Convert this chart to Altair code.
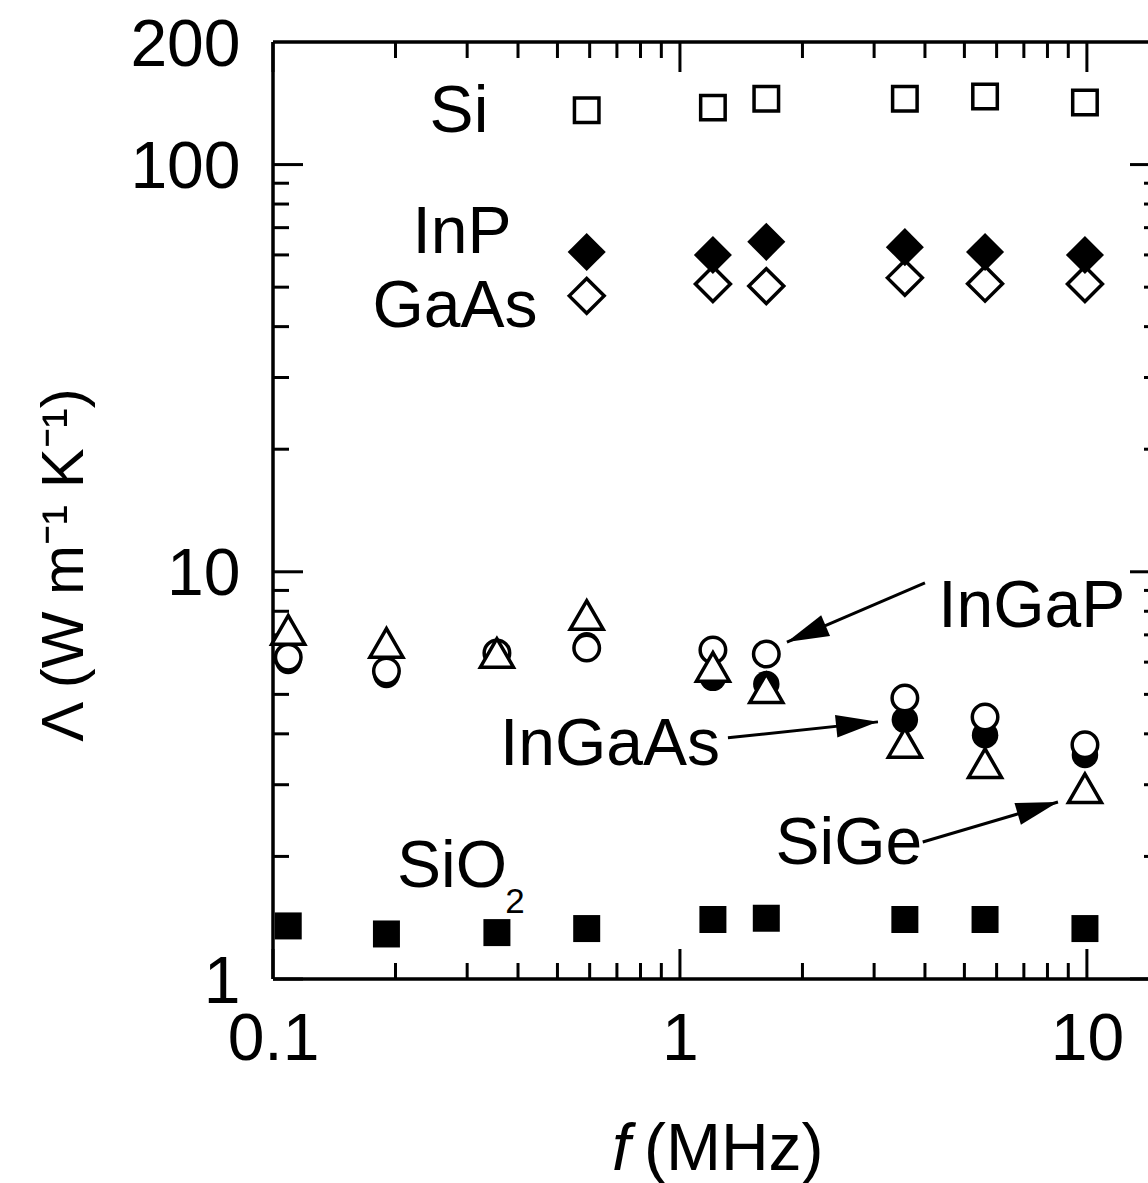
import altair as alt
import pandas as pd

# ---------------- data ----------------
f_all = [0.109, 0.19, 0.355, 0.59, 1.205, 1.63, 3.57, 5.62, 9.89]
f_high = [0.59, 1.205, 1.63, 3.57, 5.62, 9.89]

si = [136, 138, 145, 145, 147, 142]
inp = [61, 60, 64.6, 62.7, 61, 60]
gaas = [47.6, 50.9, 50.3, 52.7, 51, 50.9]
sio2 = [1.35, 1.29, 1.30, 1.33, 1.40, 1.41, 1.40, 1.40, 1.33]
ingap = [6.17, 5.71, 6.32, 6.5, 6.43, 6.28, 4.9, 4.4, 3.76]
ingaas = [6.04, 5.58, 6.3, 6.6, 5.49, 5.3, 4.33, 3.97, 3.55]
sige = [7.2, 6.69, 6.32, 7.83, 5.84, 5.18, 3.8, 3.39, 2.94]

x_major = [0.1, 1, 10]
x_minor = [0.2, 0.3, 0.4, 0.5, 0.6, 0.7, 0.8, 0.9, 2, 3, 4, 5, 6, 7, 8, 9]
y_major = [1, 10, 100]
y_minor = [2, 3, 4, 5, 6, 7, 8, 9, 20, 30, 40, 50, 60, 70, 80, 90]
x_labels = [0.1, 1, 10]
y_labels = [1, 10, 100, 200]

label_text = ["Si", "InP", "GaAs", "InGaP", "InGaAs", "SiGe", "SiO"]
label_f = [0.2864, 0.2913, 0.280, 7.32, 0.673, 2.60, 0.2754]
label_v = [120.2, 60.7, 39.9, 7.32, 3.355, 1.916, 1.682]
sub_text = ["2"]
sub_f = [0.393]
sub_v = [1.452]

arrow_name = ["InGaP", "InGaAs", "SiGe"]
arrow_f1 = [4.0, 1.312, 3.95]
arrow_v1 = [9.39, 3.91, 2.17]
arrow_f2 = [1.832, 3.066, 8.49]
arrow_v2 = [6.72, 4.28, 2.72]
arrow_angle = [247, 84, 73.5]

# ---------------- layout ----------------
W, H = 875, 937
WV = 887  # virtual right spine (outside the picture)
FONT = "Liberation Sans"
FS = 66

xs = alt.Scale(type="log", domain=[0.1, 14.13], nice=False)
ys = alt.Scale(type="log", domain=[1, 200], nice=False)

AX = alt.Axis(values=x_labels, format="~g", title=None, ticks=False, tickSize=0,
              domain=False, grid=False, labelFont=FONT, labelFontSize=FS,
              labelColor="black", labelPadding=28, labelFlush=False)
AY = alt.Axis(values=y_labels, format="~g", title=None, ticks=False, tickSize=0,
              domain=False, grid=False, labelFont=FONT, labelFontSize=FS,
              labelColor="black", labelPadding=33, labelFlush=False, labelOffset=3)


def X(field):
    return alt.X(field, scale=xs, axis=AX)


def Y(field):
    return alt.Y(field, scale=ys, axis=AY)


def series(fs, vs):
    return pd.DataFrame({"f": fs, "v": vs})


def pts(df, shape, size, filled_black):
    if filled_black:
        m = alt.Chart(df).mark_point(shape=shape, size=size, filled=True, fill="black",
                                     stroke="black", strokeWidth=0, opacity=1)
    else:
        m = alt.Chart(df).mark_point(shape=shape, size=size, filled=True, fill="white",
                                     stroke="black", strokeWidth=3.5, opacity=1)
    return m.encode(x=X("f:Q"), y=Y("v:Q"))


one = pd.DataFrame({"z": [0]})

# spines
spine_l = alt.Chart(one).mark_rule(color="black", strokeWidth=3.5).encode(
    x=alt.value(0), y=alt.value(0), y2=alt.value(H))
spine_t = alt.Chart(one).mark_rule(color="black", strokeWidth=3.5).encode(
    y=alt.value(0), x=alt.value(0), x2=alt.value(W))
spine_b = alt.Chart(one).mark_rule(color="black", strokeWidth=3.5).encode(
    y=alt.value(H), x=alt.value(0), x2=alt.value(W))


def xticks(vals, length):
    df = pd.DataFrame({"f": vals})
    b = alt.Chart(df).mark_rule(color="black", strokeWidth=3).encode(
        x=X("f:Q"), y=alt.value(H), y2=alt.value(H - length))
    t = alt.Chart(df).mark_rule(color="black", strokeWidth=3).encode(
        x=X("f:Q"), y=alt.value(0), y2=alt.value(length))
    return [b, t]


def yticks(vals, length):
    df = pd.DataFrame({"v": vals})
    l = alt.Chart(df).mark_rule(color="black", strokeWidth=3).encode(
        y=Y("v:Q"), x=alt.value(0), x2=alt.value(length))
    r = alt.Chart(df).mark_rule(color="black", strokeWidth=3).encode(
        y=Y("v:Q"), x=alt.value(WV - length), x2=alt.value(W))
    return [l, r]


ticks = xticks(x_major, 30) + xticks(x_minor, 16) + yticks(y_major, 30) + yticks(y_minor, 16)

# data markers
m_sio2 = pts(series(f_all, sio2), "square", 729, True)
m_si = pts(series(f_high, si), "square", 600, False)
m_gaas = pts(series(f_high, gaas), "diamond", 1220, False)
m_inp = pts(series(f_high, inp), "diamond", 1450, True)
m_ingaas = pts(series(f_all, ingaas), "circle", 700, True)
m_ingap = pts(series(f_all, ingap), "circle", 650, False)
m_sige = pts(series(f_all, sige), "triangle-up", 1090, False)

# annotations
lab_df = pd.DataFrame({"f": label_f, "v": label_v, "t": label_text})
labels = alt.Chart(lab_df).mark_text(font=FONT, fontSize=FS, align="center",
                                     baseline="alphabetic", color="black").encode(
    x=X("f:Q"), y=Y("v:Q"), text="t:N")
sub_df = pd.DataFrame({"f": sub_f, "v": sub_v, "t": sub_text})
sub = alt.Chart(sub_df).mark_text(font=FONT, fontSize=35, align="center",
                                  baseline="alphabetic", color="black").encode(
    x=X("f:Q"), y=Y("v:Q"), text="t:N")

arr_df = pd.DataFrame({"n": arrow_name, "f": arrow_f1, "v": arrow_v1,
                       "f2": arrow_f2, "v2": arrow_v2, "a": arrow_angle})
arr_lines = alt.Chart(arr_df).mark_rule(color="black", strokeWidth=3).encode(
    x=X("f:Q"), y=Y("v:Q"), x2="f2:Q", y2="v2:Q")
head_df = pd.DataFrame({"f": arrow_f2, "v": arrow_v2, "a": arrow_angle})
arr_heads = alt.Chart(head_df).mark_point(
    shape="M0,0L-0.27,1L0.27,1Z", size=(2 * 42) ** 2, filled=True, fill="black",
    strokeWidth=0, opacity=1).encode(
    x=X("f:Q"), y=Y("v:Q"), angle=alt.Angle("a:Q", scale=None))

# titles
ytitle = alt.Chart(one).mark_text(font=FONT, fontSize=60, angle=270, align="center",
                                  baseline="middle", color="black").encode(
    x=alt.value(-208), y=alt.value(523), text=alt.value("Λ (W m⁻¹ K⁻¹)"))
xtitle_f = alt.Chart(one).mark_text(font=FONT, fontSize=FS, fontStyle="italic", align="left",
                                    baseline="alphabetic", color="black").encode(
    x=alt.value(339), y=alt.value(1128), text=alt.value("f"))
xtitle_u = alt.Chart(one).mark_text(font=FONT, fontSize=FS, align="left",
                                    baseline="alphabetic", color="black").encode(
    x=alt.value(371), y=alt.value(1128), text=alt.value("(MHz)"))

chart = alt.layer(
    *ticks, spine_l, spine_t, spine_b,
    m_sio2, m_si, m_gaas, m_inp, m_ingaas, m_ingap, m_sige,
    arr_lines, arr_heads, labels, sub, ytitle, xtitle_f, xtitle_u,
).properties(
    width=W, height=H,
    autosize=alt.AutoSizeParams(type="none"),
    padding={"left": 273, "top": 42, "right": 0, "bottom": 204},
).configure_view(stroke=None).configure(background="white")

chart.save("out.html", embed_options={"renderer": "svg", "actions": False})
